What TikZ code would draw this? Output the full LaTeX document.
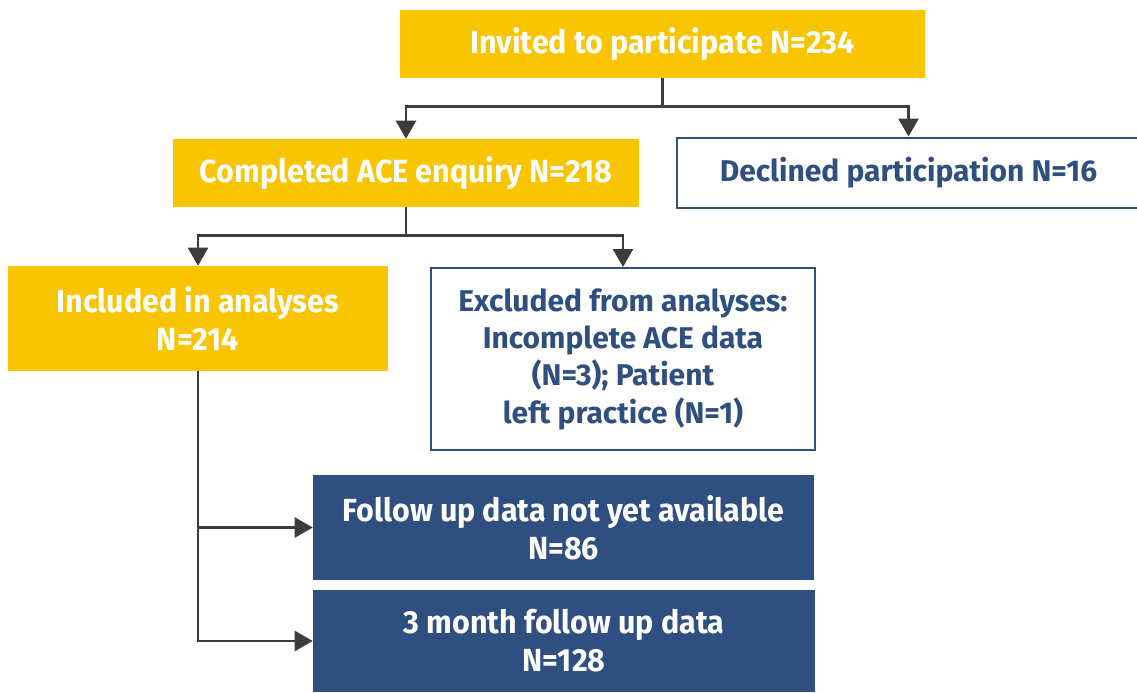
\documentclass[tikz,border=0pt]{standalone}
\usepackage{fontspec}
\setmainfont{Fira Sans}
\newfontfamily\narrowfont[FakeStretch=0.95]{Fira Sans}
\usetikzlibrary{arrows.meta}

\definecolor{boxyellow}{HTML}{F9C500}
\definecolor{boxblue}{HTML}{304F81}
\definecolor{linegray}{HTML}{3C3C3C}

\begin{document}
\begin{tikzpicture}[x=0.75pt,y=-0.75pt,
    yellowbox/.style={fill=boxyellow,text=white,align=center,inner sep=0pt,
      font=\narrowfont\bfseries\fontsize{24}{28.5}\selectfont},
    bluebox/.style={fill=boxblue,text=white,align=center,inner sep=0pt,
      font=\narrowfont\bfseries\fontsize{24}{28.5}\selectfont},
    outlinebox/.style={draw=boxblue,line width=1.5pt,fill=white,text=boxblue,
      align=center,inner sep=0pt,font=\bfseries\fontsize{22.5}{28}\selectfont},
    conn/.style={draw=linegray,line width=1.9pt},
    arr/.style={conn,-{Triangle[width=15pt,length=13.5pt]}}]
  \useasboundingbox (0,0) rectangle (1137,692);

  % boxes
  \node[yellowbox,minimum width=393.75pt,minimum height=51pt] (invited) at (662.5,44) {Invited to participate N=234};
  \node[yellowbox,minimum width=349.5pt,minimum height=51pt] (completed) at (406,173) {Completed ACE enquiry N=218};
  \node[outlinebox,minimum width=347.25pt,minimum height=52.5pt] (declined) at (908.5,172.5) {Declined participation N=16};
  \node[yellowbox,minimum width=285pt,minimum height=78.75pt] (included) at (198,318.5) {Included in analyses\\N=214};
  \node[outlinebox,minimum width=288pt,minimum height=136.5pt] (excluded) at (623,359) {Excluded from analyses:\\Incomplete ACE data\\(N=3); Patient\\left practice (N=1)};
  \node[bluebox,minimum width=375.75pt,minimum height=78.75pt] (followup) at (563.5,527.5) {Follow up data not yet available\\N=86};
  \node[bluebox,minimum width=376.5pt,minimum height=76.5pt] (threemonth) at (564,641) {3 month follow up data\\N=128};

  % connectors
  \draw[conn] (invited.south) -- ++(0,28) coordinate (split1);
  \draw[arr] (split1) -| (completed.north);
  \draw[arr] (split1) -| (declined.north);
  \draw[conn] (completed.south) -- ++(0,28) coordinate (split2);
  \draw[arr] (split2) -| (included.north);
  \draw[arr] (split2) -| (excluded.north);
  \draw[arr] (included.south) |- (followup.west);
  \draw[arr] (included.south) |- (threemonth.west);
\end{tikzpicture}
\end{document}
